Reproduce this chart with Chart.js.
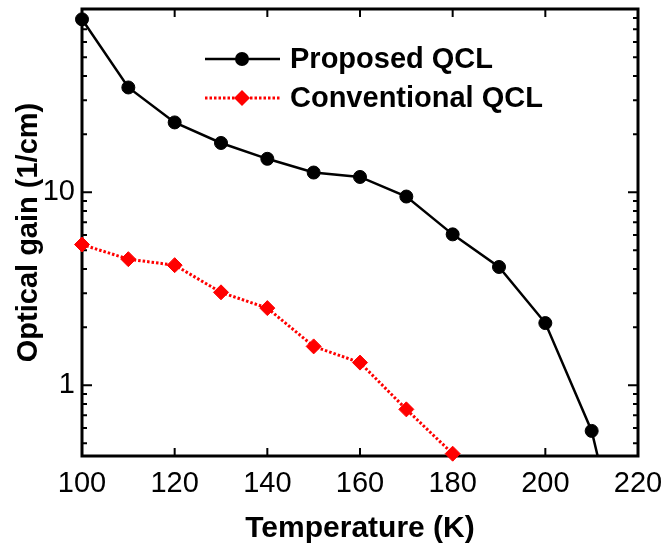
<!DOCTYPE html>
<html>
<head>
<meta charset="utf-8">
<script src="https://cdn.jsdelivr.net/npm/chart.js@4/dist/chart.umd.min.js"></script>
<style>
  html, body { margin: 0; padding: 0; background: #fff; }
  #wrap { width: 662px; height: 544px; }
</style>
</head>
<body>
<div id="wrap"><canvas id="gainChart" width="662" height="544"></canvas></div>
<script>
// gain vs temperature
const temps = [100, 110, 120, 130, 140, 150, 160, 170, 180, 190, 200, 210, 220];
const proposedGain = [78.7, 34.9, 23.0, 18.0, 14.9, 12.65, 12.0, 9.5, 6.05, 4.1, 2.1, 0.58, 0.057];
const convTemps = [100, 110, 120, 130, 140, 150, 160, 170, 180];
const conventionalGain = [5.36, 4.5, 4.19, 3.03, 2.51, 1.59, 1.31, 0.75, 0.442];

const xTickLabels = [100, 120, 140, 160, 180, 200, 220];
const yTickLabels = [1, 10];
const yMinorTicks = [0.5, 0.6, 0.7, 0.8, 0.9, 2, 3, 4, 5, 6, 7, 8, 9, 20, 30, 40, 50, 60, 70, 80];

const FONT = "Arial, 'Liberation Sans', Helvetica, sans-serif";

// drop the label overhang padding so the plot box sits where the original does
function noPad(s) {
    s.paddingLeft = 0;
    s.paddingRight = 0;
    s.paddingTop = 0;
    s.paddingBottom = 0;
}

// frame + inward ticks on all four sides
const frameTicks = {
    id: 'frameTicks',
    beforeDatasetsDraw(chart) {
        const { ctx, chartArea: a, scales: { x, y } } = chart;
        ctx.save();
        ctx.strokeStyle = '#000';
        ctx.lineWidth = 2;
        ctx.beginPath();
        xTickLabels.forEach(v => {
            const px = x.getPixelForValue(v);
            ctx.moveTo(px, a.bottom); ctx.lineTo(px, a.bottom - 8);
            ctx.moveTo(px, a.top); ctx.lineTo(px, a.top + 8);
        });
        yTickLabels.forEach(v => {
            const py = y.getPixelForValue(v);
            ctx.moveTo(a.left, py); ctx.lineTo(a.left + 10, py);
            ctx.moveTo(a.right, py); ctx.lineTo(a.right - 10, py);
        });
        yMinorTicks.forEach(v => {
            const py = y.getPixelForValue(v);
            ctx.moveTo(a.left, py); ctx.lineTo(a.left + 5, py);
            ctx.moveTo(a.right, py); ctx.lineTo(a.right - 5, py);
        });
        ctx.stroke();
        ctx.lineWidth = 3;
        ctx.strokeRect(a.left, a.top, a.width, a.height);
        ctx.restore();
    }
};

// legend sits inside the plot, line + marker like the original
const innerLegend = {
    id: 'innerLegend',
    afterDraw(chart) {
        const { ctx } = chart;
        const rows = [59, 98];
        chart.data.datasets.forEach((ds, i) => {
            const yy = rows[i];
            ctx.save();
            ctx.strokeStyle = ds.borderColor;
            ctx.lineWidth = ds.borderWidth;
            ctx.setLineDash(ds.borderDash || []);
            ctx.beginPath();
            ctx.moveTo(205, yy);
            ctx.lineTo(280, yy);
            ctx.stroke();
            ctx.setLineDash([]);
            ctx.fillStyle = ds.pointBackgroundColor;
            ctx.beginPath();
            const r = ds.pointRadius + 0.5;
            if (ds.pointStyle === 'rectRot') {
                ctx.moveTo(242, yy - r);
                ctx.lineTo(242 + r, yy);
                ctx.lineTo(242, yy + r);
                ctx.lineTo(242 - r, yy);
                ctx.closePath();
            } else {
                ctx.arc(242, yy, r, 0, Math.PI * 2);
            }
            ctx.fill();
            ctx.fillStyle = '#000';
            ctx.font = 'bold 29px ' + FONT;
            ctx.textBaseline = 'middle';
            ctx.fillText(ds.label, 290, yy + 1);
            ctx.restore();
        });
    }
};

const ctx = document.getElementById('gainChart').getContext('2d');
new Chart(ctx, {
    type: 'line',
    data: {
        datasets: [{
            label: 'Proposed QCL',
            data: temps.map((t, i) => ({ x: t, y: proposedGain[i] })),
            borderColor: '#000',
            borderWidth: 2.5,
            pointStyle: 'circle',
            pointRadius: 6.5,
            pointBorderWidth: 1,
            pointBackgroundColor: '#000',
            pointBorderColor: '#000',
            tension: 0,
            clip: { left: 12, top: 12, right: 0, bottom: 0 }
        }, {
            label: 'Conventional QCL',
            data: convTemps.map((t, i) => ({ x: t, y: conventionalGain[i] })),
            borderColor: '#ff0000',
            borderWidth: 3,
            borderDash: [2.5, 2],
            pointStyle: 'rectRot',
            pointRadius: 7.5,
            pointBorderWidth: 1,
            pointBackgroundColor: '#ff0000',
            pointBorderColor: '#ff0000',
            tension: 0,
            clip: 12
        }]
    },
    options: {
        responsive: false,
        animation: false,
        layout: { padding: { left: 0, right: 24, top: 9, bottom: 0 } },
        plugins: {
            legend: { display: false },
            tooltip: { enabled: false }
        },
        scales: {
            x: {
                type: 'linear',
                min: 100,
                max: 220,
                afterFit: s => { s.height = 88; noPad(s); },
                afterBuildTicks: s => { s.ticks = xTickLabels.map(v => ({ value: v })); },
                grid: { display: false, drawTicks: false },
                border: { display: false },
                ticks: {
                    color: '#000',
                    padding: 11,
                    maxRotation: 0,
                    autoSkip: false,
                    font: { family: FONT, size: 29 }
                },
                title: {
                    display: true,
                    text: 'Temperature (K)',
                    color: '#000',
                    padding: { top: 4, bottom: -3 },
                    font: { family: FONT, size: 30, weight: 'bold' }
                }
            },
            y: {
                type: 'logarithmic',
                min: 0.43,
                max: 89,
                afterFit: s => { s.width = 82; noPad(s); },
                afterBuildTicks: s => { s.ticks = yTickLabels.map(v => ({ value: v })); },
                grid: { display: false, drawTicks: false },
                border: { display: false },
                ticks: {
                    color: '#000',
                    padding: 7,
                    autoSkip: false,
                    callback: v => String(v),
                    font: { family: FONT, size: 29 }
                },
                title: {
                    display: true,
                    text: 'Optical gain (1/cm)',
                    color: '#000',
                    padding: { top: 12, bottom: 0 },
                    font: { family: FONT, size: 29, weight: 'bold' }
                }
            }
        }
    },
    plugins: [frameTicks, innerLegend]
});
</script>
</body>
</html>
